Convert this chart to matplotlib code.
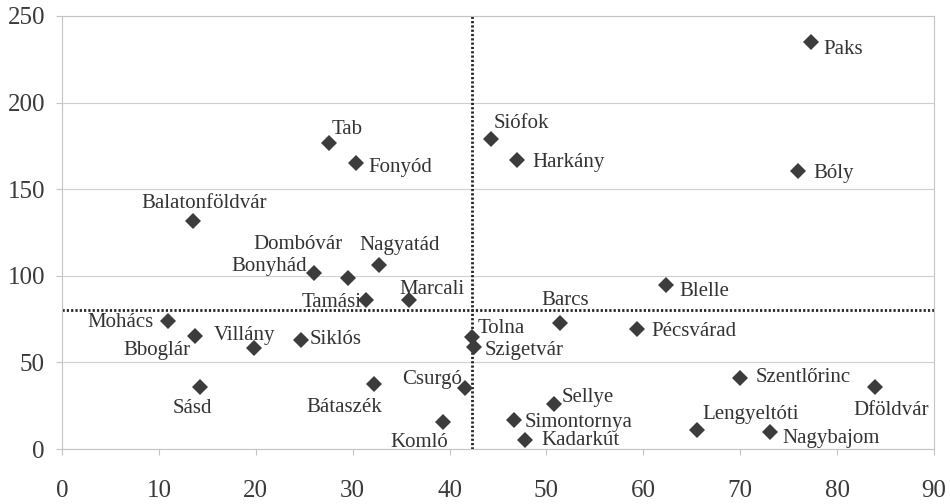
import matplotlib
matplotlib.use("Agg")
import matplotlib.pyplot as plt

# Settlements and their coordinates
towns = ["Paks", "Bóly", "Tab", "Fonyód", "Siófok", "Harkány", "Balatonföldvár",
         "Dombóvár", "Nagyatád", "Bonyhád", "Tamási", "Marcali", "Mohács", "Bboglár",
         "Villány", "Siklós", "Sásd", "Bátaszék", "Csurgó", "Komló", "Tolna",
         "Szigetvár", "Barcs", "Pécsvárad", "Blelle", "Szentlőrinc", "Dföldvár",
         "Sellye", "Simontornya", "Kadarkút", "Lengyeltóti", "Nagybajom"]
x_vals = [77.3, 76.0, 27.6, 30.3, 44.3, 47.0, 13.5,
          29.5, 32.7, 26.0, 31.4, 35.8, 10.9, 13.7,
          19.8, 24.7, 14.2, 32.2, 41.6, 39.3, 42.3,
          42.5, 51.4, 59.3, 62.3, 70.0, 83.9,
          50.8, 46.6, 47.8, 65.5, 73.1]
y_vals = [235.0, 160.4, 176.4, 164.9, 178.7, 166.8, 131.7,
          98.5, 106.2, 101.4, 86.0, 86.0, 74.0, 65.2,
          58.1, 62.9, 35.6, 37.3, 35.0, 15.8, 64.4,
          59.0, 72.5, 69.1, 94.6, 41.1, 36.0,
          26.0, 16.7, 5.2, 11.0, 9.6]

# Reference (mean) lines
x_ref = 42.3
y_ref = 80

x_ticks = [0, 10, 20, 30, 40, 50, 60, 70, 80, 90]
y_ticks = [0, 50, 100, 150, 200, 250]

# Label placement: (horizontal alignment, dx, dy) in points
label_pos = {
    "Paks": ("left", 8.6, -3.8), "Bóly": ("left", 10.8, -0.5),
    "Tab": ("left", 1.4, 11.7), "Fonyód": ("left", 9.4, -1.2),
    "Siófok": ("left", 1.4, 12.7), "Harkány": ("left", 10.6, 0),
    "Balatonföldvár": ("center", 8.1, 13.7), "Dombóvár": ("right", -3.6, 25.6),
    "Nagyatád": ("left", -13.7, 15.8), "Bonyhád": ("right", -5, 6.5),
    "Tamási": ("right", -3.6, 0), "Marcali": ("left", -6.5, 8.9),
    "Mohács": ("right", -10, 0), "Bboglár": ("right", -2.9, -8.9),
    "Villány": ("center", -6.5, 10.8), "Siklós": ("left", 5.8, 1.9),
    "Sásd": ("center", -5, -14), "Bátaszék": ("right", 5.8, -15.4),
    "Csurgó": ("right", -2.2, 7.6), "Komló": ("right", 3.6, -13.2),
    "Tolna": ("left", 4.3, 7.6), "Szigetvár": ("left", 7.9, -1.2),
    "Barcs": ("center", 3.6, 18), "Pécsvárad": ("left", 11, 0),
    "Blelle": ("left", 10, -3.1), "Szentlőrinc": ("left", 10.8, 1.9),
    "Dföldvár": ("center", 11.7, -15.6), "Sellye": ("left", 5.5, 6.5),
    "Simontornya": ("left", 7.9, -0.5), "Kadarkút": ("left", 11.7, 1.2),
    "Lengyeltóti": ("left", 3.8, 12.5), "Nagybajom": ("left", 8.6, -2.7),
}
label_shift = -1.5  # small common vertical nudge of all labels

plt.rcParams["font.family"] = ["Liberation Serif", "DejaVu Serif"]

fig = plt.figure(figsize=(9.5, 5.04), dpi=100)
ax = fig.add_axes([62 / 950, 1 - 449 / 504, (934 - 62) / 950, (449 - 16) / 504])

ax.set_xlim(x_ticks[0], x_ticks[-1])
ax.set_ylim(y_ticks[0], y_ticks[-1])
ax.set_xticks(x_ticks)
ax.set_yticks(y_ticks)

ax.grid(axis="y", color="#cfcfcf", linewidth=0.8, zorder=0)
for s in ax.spines.values():
    s.set_color("#c4c4c4")
    s.set_linewidth(0.8)

ax.tick_params(axis="both", direction="out", length=4.3, width=0.8,
               color="#c4c4c4", labelsize=18, labelcolor="#3a3a3a")
ax.tick_params(axis="x", pad=18)
ax.tick_params(axis="y", pad=8)

dot_style = (0, (0.8, 0.75))
ax.axvline(x_ref, color="#262626", linewidth=2.0, linestyle=dot_style, zorder=2)
ax.axhline(y_ref, color="#262626", linewidth=2.0, linestyle=dot_style, zorder=2)

ax.plot(x_vals, y_vals, linestyle="none", marker="D", markersize=8.4,
        color="#3c3c3c", markeredgewidth=0, zorder=3)

for name, xv, yv in zip(towns, x_vals, y_vals):
    ha, dx, dy = label_pos[name]
    ax.annotate(name, (xv, yv), xytext=(dx, dy + label_shift),
                textcoords="offset points", ha=ha, va="center",
                fontsize=15, color="#333333", zorder=4)

fig.savefig("out.png", dpi=100)
